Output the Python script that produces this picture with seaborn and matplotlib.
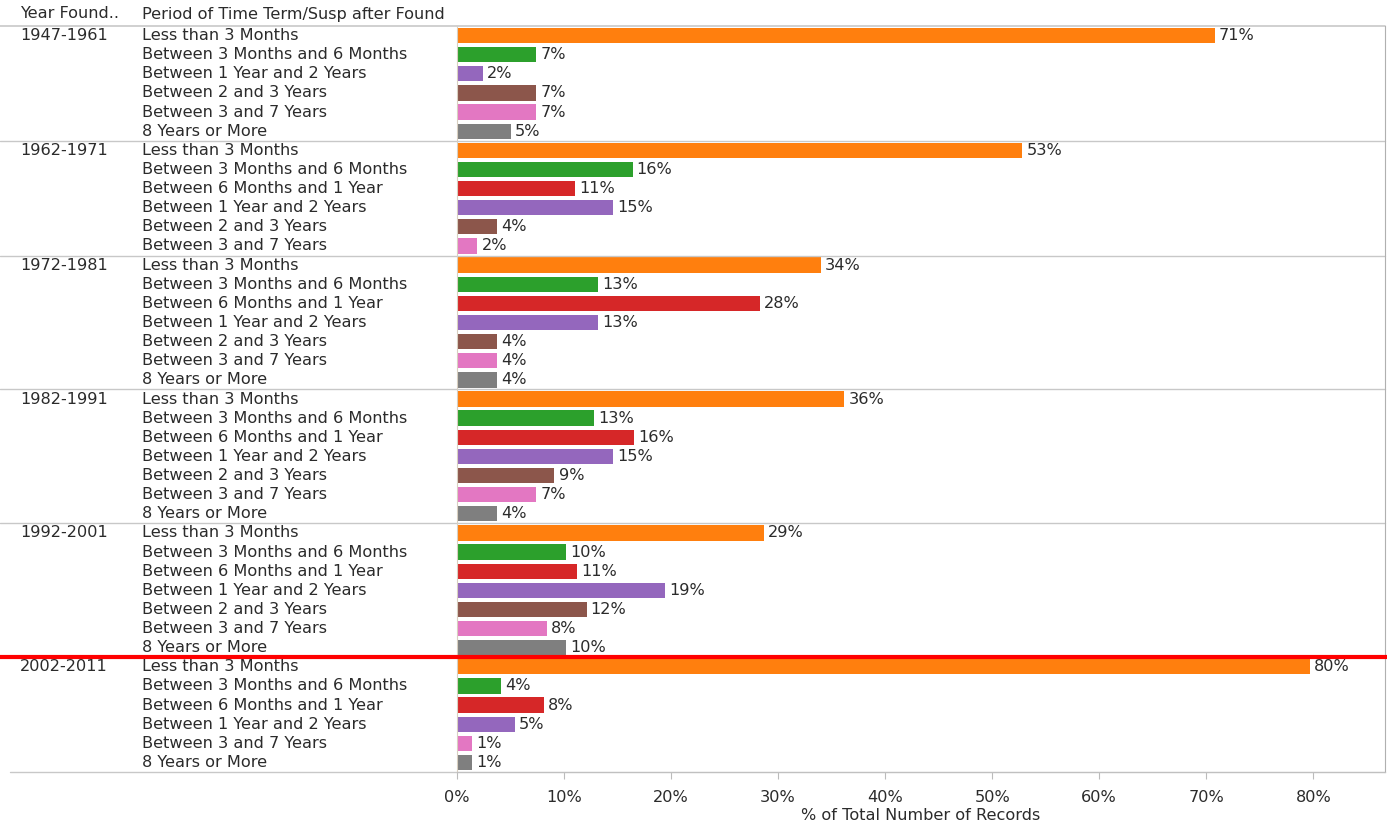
import pandas as pd
import seaborn as sns
import matplotlib.pyplot as plt
from matplotlib.transforms import blended_transform_factory

# values (% of records per period, by year group)
years = ["1947-1961", "1962-1971", "1972-1981", "1982-1991", "1992-2001", "2002-2011"]

periods_by_year = [
    ["Less than 3 Months", "Between 3 Months and 6 Months", "Between 1 Year and 2 Years",
     "Between 2 and 3 Years", "Between 3 and 7 Years", "8 Years or More"],
    ["Less than 3 Months", "Between 3 Months and 6 Months", "Between 6 Months and 1 Year",
     "Between 1 Year and 2 Years", "Between 2 and 3 Years", "Between 3 and 7 Years"],
    ["Less than 3 Months", "Between 3 Months and 6 Months", "Between 6 Months and 1 Year",
     "Between 1 Year and 2 Years", "Between 2 and 3 Years", "Between 3 and 7 Years", "8 Years or More"],
    ["Less than 3 Months", "Between 3 Months and 6 Months", "Between 6 Months and 1 Year",
     "Between 1 Year and 2 Years", "Between 2 and 3 Years", "Between 3 and 7 Years", "8 Years or More"],
    ["Less than 3 Months", "Between 3 Months and 6 Months", "Between 6 Months and 1 Year",
     "Between 1 Year and 2 Years", "Between 2 and 3 Years", "Between 3 and 7 Years", "8 Years or More"],
    ["Less than 3 Months", "Between 3 Months and 6 Months", "Between 6 Months and 1 Year",
     "Between 1 Year and 2 Years", "Between 3 and 7 Years", "8 Years or More"],
]

values_by_year = [
    [70.8, 7.4, 2.4, 7.4, 7.4, 5.0],
    [52.8, 16.4, 11.0, 14.6, 3.7, 1.9],
    [34.0, 13.2, 28.3, 13.2, 3.7, 3.7, 3.7],
    [36.2, 12.8, 16.5, 14.6, 9.1, 7.4, 3.7],
    [28.7, 10.2, 11.2, 19.4, 12.1, 8.4, 10.2],
    [79.7, 4.1, 8.1, 5.4, 1.4, 1.4],
]

period_colors = {
    "Less than 3 Months": "#ff7f0e",
    "Between 3 Months and 6 Months": "#2ca02c",
    "Between 6 Months and 1 Year": "#d62728",
    "Between 1 Year and 2 Years": "#9467bd",
    "Between 2 and 3 Years": "#8c564b",
    "Between 3 and 7 Years": "#e377c2",
    "8 Years or More": "#7f7f7f",
}

rows = []
for yr, periods, vals in zip(years, periods_by_year, values_by_year):
    for p, v in zip(periods, vals):
        rows.append({"year": yr, "period": p, "row": yr + "|" + p, "pct": v})
df = pd.DataFrame(rows)

sns.set_style("white")
plt.rcParams["font.family"] = ["DejaVu Sans"]
txt = "#2b2b2b"
fs = 11.6

fig = plt.figure(figsize=(13.87, 8.27), dpi=100)
ax = fig.add_axes([457 / 1387, 1 - 772 / 827, (1385 - 457) / 1387, (772 - 26) / 827])

sns.barplot(data=df, x="pct", y="row", hue="period", palette=period_colors,
            order=list(df["row"]), dodge=False, width=0.8, legend=False,
            saturation=1, linewidth=0, ax=ax)

for c in ax.containers:
    ax.bar_label(c, fmt="{:.0f}%", padding=3, fontsize=fs, color=txt)

ax.set_xlim(0, 86.7)
ax.set_ylim(len(df) - 0.5, -0.5)
ax.set_yticks([])
ax.set_ylabel("")
ax.set_xticks(range(0, 90, 10))
ax.set_xticklabels([f"{t}%" for t in range(0, 90, 10)], fontsize=fs, color=txt)
ax.tick_params(axis="x", bottom=True, length=5, width=0.8, color="#bbbbbb", pad=8)
ax.set_xlabel("% of Total Number of Records", fontsize=fs, color=txt, labelpad=2)

ax.spines["top"].set_visible(False)
ax.spines["left"].set_color("#d8cfc0")
ax.spines["right"].set_color("#b0b0b0")
ax.spines["bottom"].set_color("#c0c0c0")

# row headers on the left
trans = blended_transform_factory(fig.transFigure, ax.transData)
pos = 0
for i, (yr, periods) in enumerate(zip(years, periods_by_year)):
    ax.text(20 / 1387, pos, yr, transform=trans, fontsize=fs, color=txt, va="center")
    for j, p in enumerate(periods):
        ax.text(142 / 1387, pos + j, p, transform=trans, fontsize=fs, color=txt, va="center")
    pos += len(periods)
    if i < len(years) - 1:
        ax.plot([0, 1385 / 1387], [pos - 0.5, pos - 0.5], transform=trans,
                color="#c8c8c8", lw=1, clip_on=False)

# header
ax.plot([0, 1385 / 1387], [-0.5, -0.5], transform=trans, color="#c8c8c8", lw=1.2, clip_on=False)
ax.plot([10 / 1387, 1385 / 1387], [len(df) - 0.5, len(df) - 0.5], transform=trans,
        color="#c8c8c8", lw=1, clip_on=False)
fig.text(20 / 1387, 1 - 14 / 827, "Year Found..", fontsize=fs, color=txt, va="center")
fig.text(142 / 1387, 1 - 14 / 827, "Period of Time Term/Susp after Found", fontsize=fs,
         color=txt, va="center")

# red marker line above the last group
split = len(df) - len(periods_by_year[-1]) - 0.5
ax.plot([0, 1], [split, split], transform=trans, color="red", lw=3, clip_on=False, zorder=5)

fig.savefig("out.png", dpi=100)
